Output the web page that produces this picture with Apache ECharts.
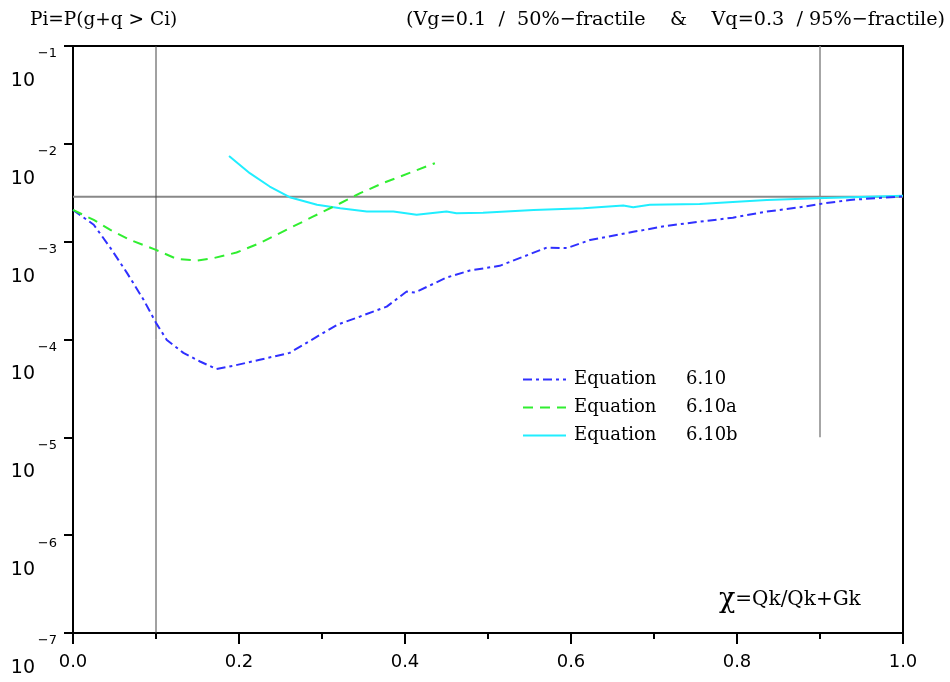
<!DOCTYPE html>
<html><head><meta charset="utf-8">
<script src="https://cdn.jsdelivr.net/npm/echarts@6/dist/echarts.min.js"></script>
<style>html,body{margin:0;padding:0;background:#fff}#c{width:950px;height:682px}</style>
</head><body><div id="c"></div>
<script>
// ---- data ----
const eq610X = [0.0, 0.025, 0.045, 0.065, 0.085, 0.10, 0.113, 0.133, 0.153, 0.173, 0.193, 0.225, 0.261, 0.298, 0.318, 0.346, 0.378, 0.402, 0.412, 0.450, 0.478, 0.514, 0.571, 0.595, 0.623, 0.675, 0.715, 0.755, 0.795, 0.836, 0.876, 0.90, 0.936, 1.0];
const eq610Y = [2.11e-3, 1.49e-3, 8.65e-4, 4.80e-4, 2.55e-4, 1.48e-4, 9.9e-5, 7.3e-5, 5.96e-5, 4.99e-5, 5.38e-5, 6.21e-5, 7.3e-5, 1.12e-4, 1.41e-4, 1.72e-4, 2.17e-4, 3.09e-4, 3.02e-4, 4.30e-4, 5.07e-4, 5.66e-4, 8.71e-4, 8.59e-4, 1.04e-3, 1.26e-3, 1.45e-3, 1.60e-3, 1.76e-3, 2.03e-3, 2.25e-3, 2.43e-3, 2.67e-3, 2.90e-3];
const eq610aX = [0.0, 0.025, 0.045, 0.069, 0.10, 0.125, 0.149, 0.169, 0.197, 0.225, 0.257, 0.289, 0.322, 0.346, 0.373, 0.394, 0.436];
const eq610aY = [2.11e-3, 1.67e-3, 1.32e-3, 1.04e-3, 8.24e-4, 6.67e-4, 6.41e-4, 6.78e-4, 7.74e-4, 9.66e-4, 1.32e-3, 1.80e-3, 2.47e-3, 3.13e-3, 3.96e-3, 4.63e-3, 6.34e-3];
const eq610bX = [0.188, 0.213, 0.237, 0.261, 0.294, 0.322, 0.354, 0.386, 0.414, 0.450, 0.462, 0.494, 0.555, 0.615, 0.663, 0.675, 0.695, 0.755, 0.795, 0.836, 0.896, 1.0];
const eq610bY = [7.51e-3, 5.01e-3, 3.66e-3, 2.85e-3, 2.38e-3, 2.20e-3, 2.03e-3, 2.03e-3, 1.88e-3, 2.03e-3, 1.95e-3, 1.98e-3, 2.11e-3, 2.20e-3, 2.34e-3, 2.25e-3, 2.39e-3, 2.43e-3, 2.55e-3, 2.67e-3, 2.78e-3, 2.94e-3];
const seriesNames = ['Equation 6.10', 'Equation 6.10a', 'Equation 6.10b'];
const refLevel = 2.87e-3;          // horizontal reference
const refChiLow = 0.1;             // vertical reference (full height)
const refChiHigh = 0.9;            // vertical reference (from 1e-5 up)
const refChiHighBottom = 1e-5;
const yMin = 1e-7, yMax = 1e-1;
const xMin = 0, xMax = 1, xStep = 0.2;
const titleLeft = 'Pi=P(g+q > Ci)';
const titleRight = '(Vg=0.1  /  50%\u2212fractile    &    Vq=0.3  / 95%\u2212fractile)';
const xAxisNote = 'Qk/Qk+Gk';

const zip = (xs, ys) => xs.map((x, i) => [x, ys[i]]);
const SANS = '"DejaVu Sans", sans-serif';
const SERIF = '"DejaVu Serif", serif';

const chart = echarts.init(document.getElementById('c'), null, {renderer: 'canvas'});
chart.setOption({
  animation: false,
  backgroundColor: '#fff',
  grid: {left: 73, right: 47, top: 46, bottom: 49, show: true, borderColor: '#000', borderWidth: 2, backgroundColor: 'transparent'},
  title: [
    {text: titleLeft, left: 25, top: 6, textStyle: {fontFamily: SERIF, fontSize: 18.5, fontWeight: 'normal', color: '#000'}},
    {text: titleRight, right: 0, top: 6, textStyle: {fontFamily: SERIF, fontSize: 19.2, fontWeight: 'normal', color: '#000'}}
  ],
  graphic: [{
    type: 'text', left: 719, top: 586,
    style: {
      text: '{chi|\u03C7}{t|=' + xAxisNote + '}',
      rich: {
        chi: {fontFamily: SERIF, fontSize: 27, fill: '#000', verticalAlign: 'bottom'},
        t: {fontFamily: SERIF, fontSize: 20, fill: '#000'}
      }
    }
  }],
  legend: {
    data: seriesNames, orient: 'vertical', left: 517, top: 364,
    itemWidth: 43, itemHeight: 14, itemGap: 7,
    itemStyle: {opacity: 0},
    formatter: n => '{a|Equation}{b|' + n.split(' ')[1] + '}',
    textStyle: {
      fontFamily: SERIF, fontSize: 18, color: '#000', lineHeight: 21, padding: [0, 0, 0, 3],
      rich: {a: {fontFamily: SERIF, fontSize: 18, width: 112}, b: {fontFamily: SERIF, fontSize: 18}}
    }
  },
  xAxis: {
    type: 'value', min: xMin, max: xMax, interval: xStep,
    axisLine: {show: true, onZero: false, lineStyle: {color: '#000', width: 2}},
    axisTick: {show: true, length: 11, lineStyle: {color: '#000', width: 2}},
    minorTick: {show: true, splitNumber: 2, length: 6, lineStyle: {color: '#000', width: 2}},
    splitLine: {show: false},
    axisLabel: {margin: 20, fontFamily: SANS, fontSize: 18, color: '#000', formatter: v => v.toFixed(1), showMinLabel: true, showMaxLabel: true}
  },
  yAxis: {
    type: 'log', logBase: 10, min: yMin, max: yMax, splitNumber: 6,
    axisLine: {show: true, lineStyle: {color: '#000', width: 2}},
    axisTick: {show: true, length: 9, lineStyle: {color: '#000', width: 2}},
    minorTick: {show: false},
    splitLine: {show: false},
    axisLabel: {
      margin: 16, align: 'right', verticalAlign: 'top', showMinLabel: true, showMaxLabel: true, hideOverlap: false,
      formatter: v => {
        const e = Math.round(Math.log10(v));
        return '{e|\u2212' + (-e) + '}\n{b|10}{s|}';
      },
      rich: {
        e: {fontFamily: SANS, fontSize: 13, lineHeight: 16, color: '#000'},
        b: {fontFamily: SANS, fontSize: 19, lineHeight: 38, color: '#000'},
        s: {width: 22, lineHeight: 38}
      }
    }
  },
  series: [
    {name: 'refH', type: 'line', data: [[xMin, refLevel], [xMax, refLevel]], symbol: 'none', silent: true, z: 1,
     lineStyle: {color: '#888', width: 2}},
    {name: 'refV1', type: 'line', data: [[refChiLow, yMin], [refChiLow, yMax]], symbol: 'none', silent: true, z: 1,
     lineStyle: {color: '#444', width: 1}},
    {name: 'refV2', type: 'line', data: [[refChiHigh, refChiHighBottom], [refChiHigh, yMax]], symbol: 'none', silent: true, z: 1,
     lineStyle: {color: '#888', width: 1.5}},
    {name: seriesNames[0], type: 'line', data: zip(eq610X, eq610Y), symbol: 'none', z: 3,
     lineStyle: {color: '#3030ff', width: 2, type: [9, 4, 3, 4]}, itemStyle: {color: '#3030ff'}},
    {name: seriesNames[1], type: 'line', data: zip(eq610aX, eq610aY), symbol: 'none', z: 3,
     lineStyle: {color: '#30ee30', width: 2, type: [10, 7]}, itemStyle: {color: '#30ee30'}},
    {name: seriesNames[2], type: 'line', data: zip(eq610bX, eq610bY), symbol: 'none', z: 2,
     lineStyle: {color: '#20eeff', width: 2}, itemStyle: {color: '#20eeff'}}
  ]
});
</script></body></html>
